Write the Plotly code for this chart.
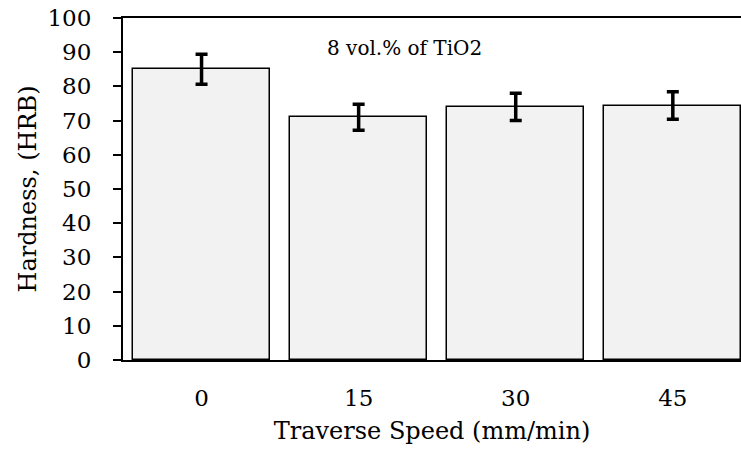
import plotly.graph_objects as go

categories = ["0", "15", "30", "45"]
hardness = [85.0, 71.0, 74.0, 74.4]
errors = [4.4, 3.8, 4.0, 4.0]
y_ticks = [0, 10, 20, 30, 40, 50, 60, 70, 80, 90, 100]

FONT = "DejaVu Serif"

fig = go.Figure()
fig.add_trace(go.Bar(
    x=list(range(len(categories))),
    y=hardness,
    width=0.87,
    marker=dict(color="#f2f2f2", line=dict(color="black", width=1.5)),
    error_y=dict(type="data", array=errors, visible=True, color="black",
                 thickness=3.5, width=6),
))

fig.add_annotation(x=1.29, y=91.2, xref="x", yref="y", text="8 vol.% of TiO2",
                   showarrow=False, font=dict(family=FONT, size=20, color="black"))

fig.update_layout(
    width=741, height=450,
    margin=dict(l=123, r=0, t=18, b=90),
    paper_bgcolor="white", plot_bgcolor="white",
    showlegend=False,
    font=dict(family=FONT, size=23, color="black"),
    bargap=0,
)
fig.update_xaxes(
    range=[-0.5, 3.434],
    tickmode="array",
    tickvals=list(range(len(categories))),
    ticktext=categories,
    ticks="", ticklabelstandoff=16,
    showline=True, linecolor="black", linewidth=2, mirror=True,
    showgrid=False, zeroline=False,
    title=dict(text="Traverse Speed (mm/min)", font=dict(family=FONT, size=24, color="black"), standoff=13),
)
fig.update_yaxes(
    range=[0, 100],
    tickmode="array", tickvals=y_ticks,
    ticks="outside", ticklen=8, tickwidth=2, tickcolor="black",
    ticklabelstandoff=17,
    showline=True, linecolor="black", linewidth=2,
    showgrid=False, zeroline=False,
    title=dict(text="Hardness, (HRB)", font=dict(family=FONT, size=24, color="black"), standoff=4),
)

fig.write_html("out.html", config={"displayModeBar": False},
               post_script="document.body.style.margin='0';document.body.style.overflow='hidden';")
